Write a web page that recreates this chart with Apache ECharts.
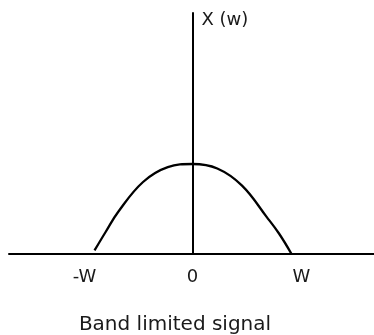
<!DOCTYPE html>
<html>
<head>
<meta charset="utf-8">
<script src="https://cdn.jsdelivr.net/npm/echarts@6/dist/echarts.min.js"></script>
<style>
html,body{margin:0;padding:0;background:#fff;}
#chart{width:374px;height:335px;}
</style>
</head>
<body>
<div id="chart"></div>
<script>
// frequency (in units of W) and amplitude of the band-limited spectrum
const freq = [-0.99, -0.875, -0.75, -0.5, -0.25, 0, 0.25, 0.5, 0.75, 0.875, 1.0];
const amp  = [0.04, 0.25, 0.47, 0.80, 0.965, 1.0, 0.95, 0.76, 0.41, 0.225, 0];
const tickPositions = [-1.09, 0, 1.1];
const tickLabels = ['-W', '0', 'W'];
const yName = 'X (w)';
const titleText = 'Band limited signal';

const chart = echarts.init(document.getElementById('chart'), null, {renderer: 'canvas'});
const font = "'DejaVu Sans', Verdana, sans-serif";
const txt = '#1a1a1a';
chart.setOption({
  animation: false,
  backgroundColor: '#fff',
  title: {
    text: titleText,
    left: 175,
    top: 315,
    padding: 0,
    textAlign: 'center',
    textStyle: {fontFamily: font, fontSize: 20, fontWeight: 'normal', color: txt}
  },
  grid: {left: 9, right: 0, top: 13, bottom: 81, containLabel: false},
  xAxis: {
    type: 'value',
    min: -1.854,
    max: 1.833,
    splitLine: {show: false},
    axisTick: {show: false},
    axisLine: {show: true, lineStyle: {color: '#000', width: 2}},
    axisLabel: {
      customValues: tickPositions,
      formatter: function (v) {
        const i = tickPositions.findIndex(p => Math.abs(p - v) < 1e-6);
        return i >= 0 ? tickLabels[i] : '';
      },
      margin: 14,
      fontFamily: font, fontSize: 18, color: txt
    }
  },
  yAxis: {
    type: 'value',
    min: 0,
    max: 2.678,
    name: yName,
    nameLocation: 'end',
    nameGap: -7,
    nameTextStyle: {fontFamily: font, fontSize: 18, color: txt, align: 'left', verticalAlign: 'middle', padding: [0, 0, 0, 9]},
    splitLine: {show: false},
    axisTick: {show: false},
    axisLabel: {show: false},
    axisLine: {show: true, onZero: true, lineStyle: {color: '#000', width: 2}}
  },
  series: [{
    type: 'line',
    data: freq.map((f, i) => [f, amp[i]]),
    smooth: 0.4,
    showSymbol: false,
    lineStyle: {color: '#000', width: 2.3},
    z: 1
  }]
});
</script>
</body>
</html>
